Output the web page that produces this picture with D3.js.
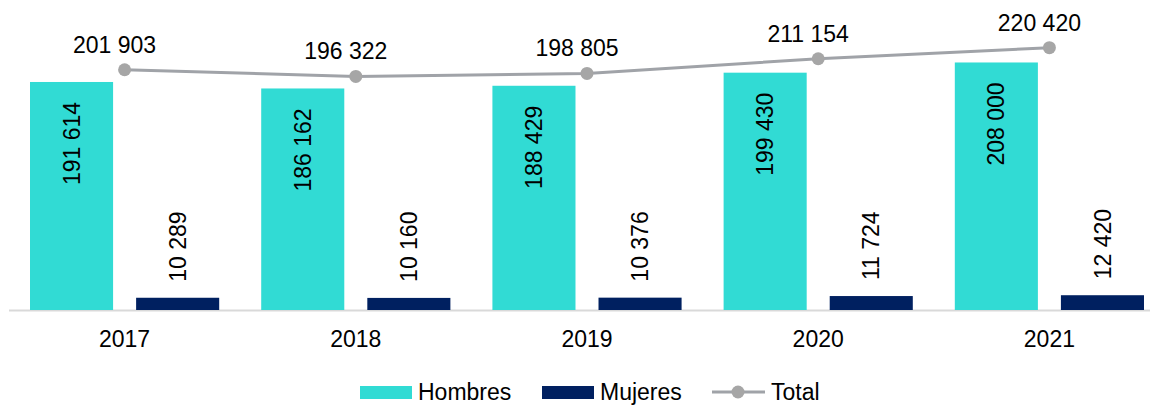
<!DOCTYPE html>
<html>
<head>
<meta charset="utf-8">
<script src="https://cdn.jsdelivr.net/npm/d3@7"></script>
<style>
  body { margin: 0; background: #fff; }
  svg { display: block; font-family: "Liberation Sans", Arial, sans-serif; }
</style>
</head>
<body>
<svg class="svg" width="1154" height="406"></svg>
<script>
// data
var years = ['2017', '2018', '2019', '2020', '2021'];
var hombres = [191614, 186162, 188429, 199430, 208000];
var mujeres = [10289, 10160, 10376, 11724, 12420];
var total = [201903, 196322, 198805, 211154, 220420];
var seriesNames = ['Hombres', 'Mujeres'];

var colors = { Hombres: '#31dbd4', Mujeres: '#002060', Total: '#a0a3a8', dot: '#a6a6a6' };

var svg = d3.select('.svg');
var fontSize = 23;

// number format with a space as thousands separator
var fmt = d3.formatLocale({ decimal: ',', thousands: ' ', grouping: [3], currency: ['', ''] }).format(',d');

var rows = years.map((y, i) => ({ year: y, Hombres: hombres[i], Mujeres: mujeres[i], Total: total[i] }));

//scales
var x0 = d3.scaleBand().domain(years).range([9, 1165]);
var x1 = d3.scaleBand().domain(seriesNames).range([0, x0.bandwidth()])
  .paddingInner(0.217).paddingOuter(0.198);
var y = d3.scaleLinear().domain([0, 250000]).range([310, 12.5]);

//baseline
svg.append('line')
  .attr('x1', 9).attr('x2', 1150)
  .attr('y1', y(0) + 0.5).attr('y2', y(0) + 0.5)
  .attr('stroke', '#d9d9d9').attr('stroke-width', 1.8);

//bars
var groups = svg.selectAll('.grp')
  .data(rows)
  .enter().append('g')
  .attr('class', 'grp')
  .attr('transform', d => 'translate(' + x0(d.year) + ',0)');

groups.selectAll('rect')
  .data(d => seriesNames.map(k => ({ key: k, value: d[k] })))
  .enter().append('rect')
  .attr('x', d => x1(d.key))
  .attr('y', d => y(d.value))
  .attr('width', x1.bandwidth())
  .attr('height', d => y(0) - y(d.value))
  .attr('fill', d => colors[d.key]);

//rotated bar labels: inside end for Hombres, outside end for Mujeres
groups.selectAll('.blab')
  .data(d => seriesNames.map(k => ({ key: k, value: d[k] })))
  .enter().append('text')
  .attr('class', 'blab')
  .attr('transform', d => {
    var cx = x1(d.key) + x1.bandwidth() / 2;
    var cy = d.key === 'Hombres' ? y(d.value) + 20 : y(d.value) - 16;
    return 'translate(' + cx + ',' + cy + ') rotate(-90)';
  })
  .attr('text-anchor', d => d.key === 'Hombres' ? 'end' : 'start')
  .attr('dy', '0.35em')
  .attr('font-size', fontSize)
  .attr('fill', '#000')
  .text(d => fmt(d.value));

//total line
var cx = d => x0(d.year) + x0.bandwidth() / 2;
var line = d3.line().x(cx).y(d => y(d.Total));

svg.append('path')
  .datum(rows)
  .attr('d', line)
  .attr('fill', 'none')
  .attr('stroke', colors.Total)
  .attr('stroke-width', 3);

svg.selectAll('.dot')
  .data(rows)
  .enter().append('circle')
  .attr('class', 'dot')
  .attr('cx', cx)
  .attr('cy', d => y(d.Total))
  .attr('r', 6.5)
  .attr('fill', colors.dot);

svg.selectAll('.tlab')
  .data(rows)
  .enter().append('text')
  .attr('class', 'tlab')
  .attr('x', d => cx(d) - 10)
  .attr('y', d => y(d.Total) - 17)
  .attr('text-anchor', 'middle')
  .attr('font-size', fontSize)
  .text(d => fmt(d.Total));

//year labels
svg.selectAll('.xlab')
  .data(years)
  .enter().append('text')
  .attr('class', 'xlab')
  .attr('x', d => x0(d) + x0.bandwidth() / 2)
  .attr('y', 347)
  .attr('text-anchor', 'middle')
  .attr('font-size', fontSize)
  .text(d => d);

//legend (baseline kept just high enough for descenders to fit)
var legend = svg.append('g').attr('transform', 'translate(0,400)');

legend.append('rect').attr('x', 360).attr('y', -14).attr('width', 52).attr('height', 13).attr('fill', colors.Hombres);
legend.append('text').attr('x', 418).attr('y', 0).attr('font-size', fontSize).text('Hombres');

legend.append('rect').attr('x', 542).attr('y', -14).attr('width', 52).attr('height', 13).attr('fill', colors.Mujeres);
legend.append('text').attr('x', 600).attr('y', 0).attr('font-size', fontSize).text('Mujeres');

legend.append('line').attr('x1', 712).attr('x2', 765).attr('y1', -8).attr('y2', -8)
  .attr('stroke', colors.Total).attr('stroke-width', 3);
legend.append('circle').attr('cx', 738).attr('cy', -8).attr('r', 6.5).attr('fill', colors.dot);
legend.append('text').attr('x', 771).attr('y', 0).attr('font-size', fontSize).text('Total');
</script>
</body>
</html>
